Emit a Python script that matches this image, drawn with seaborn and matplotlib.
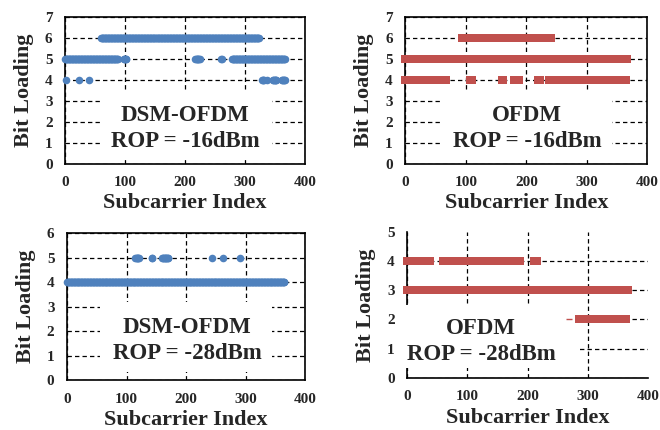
import numpy as np
import pandas as pd
import matplotlib
matplotlib.use("Agg")
import matplotlib.pyplot as plt
import seaborn as sns
from matplotlib.patches import Rectangle

# ----------------------------------------------------------------------------------------------
# Bit loading: (first subcarrier, last subcarrier) runs per level
# ----------------------------------------------------------------------------------------------
dsm16_level6 = [(60, 323)]
dsm16_level5 = [(0, 88), (98, 102), (217, 224), (260, 261), (278, 366)]
dsm16_level4 = [(2, 2), (23, 23), (40, 40), (328, 331), (336, 336), (346, 352), (361, 366)]

ofdm16_level6 = [(93, 206), (212, 241)]
ofdm16_level5 = [(0, 366)]
ofdm16_level4 = [(0, 67), (107, 110), (159, 162), (180, 188), (220, 222), (238, 365)]

dsm28_level5 = [(115, 121), (142, 143), (160, 170), (244, 244), (262, 262), (290, 290)]
dsm28_level4 = [(0, 365)]

ofdm28_level4 = [(0, 38), (59, 187), (210, 215)]
ofdm28_level3 = [(0, 366)]
ofdm28_level2 = [(286, 363)]
ofdm28_stray = [268]  # lone thin dash on level 2

x_ticks = [0, 100, 200, 300, 400]
blue = "#4F81BD"
red = "#C0504D"


def expand(runs_by_level):
    rows = []
    for level, runs in runs_by_level.items():
        for first, last in runs:
            for idx in range(first, last + 1):
                rows.append((idx, level))
    return pd.DataFrame(rows, columns=["subcarrier", "bits"])


dsm16 = expand({6: dsm16_level6, 5: dsm16_level5, 4: dsm16_level4})
ofdm16 = expand({6: ofdm16_level6, 5: ofdm16_level5, 4: ofdm16_level4})
dsm28 = expand({5: dsm28_level5, 4: dsm28_level4})
ofdm28 = expand({4: ofdm28_level4, 3: ofdm28_level3, 2: ofdm28_level2})

# ----------------------------------------------------------------------------------------------
sns.set_style("white")
plt.rcParams["font.family"] = ["Liberation Serif", "DejaVu Serif"]
plt.rcParams["font.weight"] = "bold"

fig = plt.figure(figsize=(6.6, 4.3), dpi=100)

panels = [
    # rect, data, colour, marker, size, ymax, text, text pos, white box, full frame
    ([0.0985, 0.619, 0.364, 0.342], dsm16, blue, "o", 30, 7, "DSM-OFDM\nROP = -16dBm",
     (200, 1.69), (58, 0.33, 345, 3.43), True),
    ([0.614, 0.619, 0.367, 0.342], ofdm16, red, "s", 30, 7, "OFDM\nROP = -16dBm",
     (201, 1.69), (58, 0.33, 342, 3.43), True),
    ([0.1015, 0.116, 0.361, 0.342], dsm28, blue, "o", 30, 6, "DSM-OFDM\nROP = -28dBm",
     (202, 1.63), (55, 0.33, 344, 3.18), True),
    ([0.617, 0.121, 0.365, 0.34], ofdm28, red, "s", 30, 5, "OFDM\nROP = -28dBm",
     (123, 1.25), (-7, 0.34, 284, 2.5), False),
]

for rect, df, colour, marker, size, ymax, label, pos, box, full in panels:
    ax = fig.add_axes(rect)
    sns.scatterplot(data=df, x="subcarrier", y="bits", color=colour, marker=marker,
                    s=size, linewidth=0, ax=ax, zorder=4, clip_on=False)
    ax.set_xlim(0, 400)
    ax.set_ylim(0, ymax)
    ax.set_xticks(x_ticks)
    ax.set_yticks(range(ymax + 1))
    ax.grid(True, color="black", linestyle=(0, (3.5, 2.5)), linewidth=0.9)
    ax.set_axisbelow(True)
    ax.tick_params(length=0, labelsize=11, pad=9)
    ax.set_xlabel("Subcarrier Index", fontsize=16, fontweight="bold", labelpad=3)
    ax.set_ylabel("Bit Loading", fontsize=16, fontweight="bold", labelpad=8)
    for side in ["left", "bottom", "top", "right"]:
        ax.spines[side].set_color("black")
        ax.spines[side].set_linewidth(1.2)
    if not full:
        ax.spines["top"].set_visible(False)
        ax.spines["right"].set_visible(False)
        ax.get_xgridlines()[-1].set_visible(False)
        ax.get_ygridlines()[-1].set_visible(False)
        ax.plot(ofdm28_stray, [2] * len(ofdm28_stray), marker="_", markersize=5,
                markeredgewidth=1, color=colour, linestyle="none", zorder=4)
    x0, y0, x1, y1 = box
    ax.add_patch(Rectangle((x0, y0), x1 - x0, y1 - y0, facecolor="white",
                           edgecolor="none", zorder=3, clip_on=False))
    ax.text(pos[0], pos[1], label, ha="center", va="center", fontsize=16.5,
            fontweight="bold", zorder=5, linespacing=1.3)

plt.savefig("out.png", dpi=100)
